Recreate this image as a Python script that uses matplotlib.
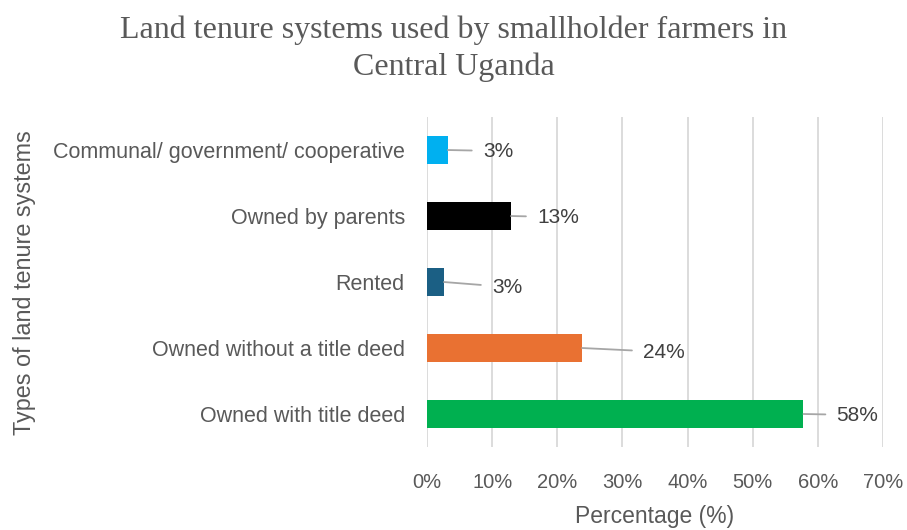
import matplotlib
matplotlib.use("Agg")
import matplotlib.pyplot as plt
from matplotlib.ticker import FuncFormatter

# bottom to top, as the categories sit on the y axis
categories = ["Owned with title deed", "Owned without a title deed", "Rented",
              "Owned by parents", "Communal/ government/ cooperative"]
shares = [57.8, 23.8, 2.6, 12.9, 3.2]
colors = ["#00b050", "#e97132", "#1b5f84", "#000000", "#00b0f0"]
xticks = [0, 10, 20, 30, 40, 50, 60, 70]

# where each value label sits relative to its bar end (pixels)
label_offsets = [(33, -1), (61, -4), (48, -5), (26, -1), (35, -1)]

grey = "#595959"
plt.rcParams["font.family"] = "Liberation Sans"

fig = plt.figure(figsize=(9.07, 5.30), dpi=100)
ax = fig.add_axes([0.4708, 0.1566, 0.5027, 0.6226])

y = range(len(categories))
ax.barh(y, shares, height=0.41, color=colors, zorder=3)

for i, v in enumerate(shares):
    dx, dy = label_offsets[i]
    ax.annotate(f"{v:.0f}%", xy=(v, i), xytext=(dx, dy), textcoords="offset pixels",
                ha="left", va="center", fontsize=15, color="#404040",
                arrowprops=dict(arrowstyle="-", color="#a6a6a6", lw=1.3,
                                shrinkA=6, shrinkB=0))

ax.set_xlim(0, 70)
ax.set_ylim(-0.5, len(categories) - 0.5)
ax.set_xticks(xticks)
ax.xaxis.set_major_formatter(FuncFormatter(lambda v, p: f"{v:.0f}%"))
ax.set_yticks(list(y))
ax.set_yticklabels(categories, fontsize=15.5, color=grey)
ax.tick_params(axis="x", length=0, pad=19, labelsize=14.5, labelcolor=grey)
ax.tick_params(axis="y", length=0, pad=16)

ax.grid(axis="x", color="#d9d9d9", lw=1.3, zorder=0)
for s in ax.spines.values():
    s.set_visible(False)

ax.set_xlabel("Percentage (%)", fontsize=16.5, color=grey, labelpad=9)
fig.text(0.027, 0.466, "Types of land tenure systems", rotation=90, ha="center",
         va="center", fontsize=16.8, color=grey)

fig.text(0.5, 0.908, "Land tenure systems used by smallholder farmers in\nCentral Uganda",
         ha="center", va="center", fontsize=23, color=grey, family="Liberation Serif",
         linespacing=1.33)

fig.savefig("out.png", dpi=100)
